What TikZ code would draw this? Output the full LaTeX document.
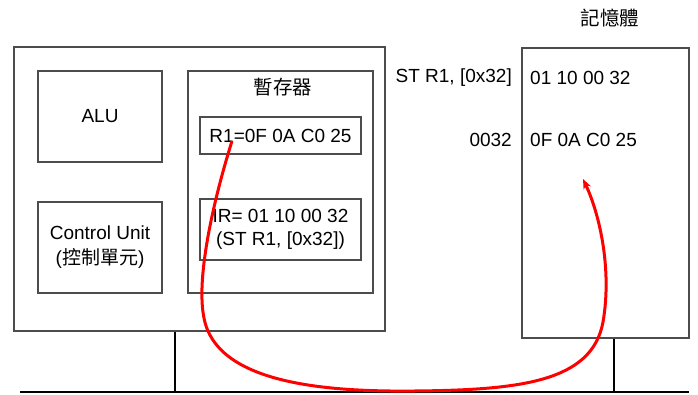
\documentclass[tikz,border=0pt]{standalone}
\usepackage{fontspec}
\setmainfont{Liberation Sans}
\newfontfamily\cjk{Noto Sans CJK TC}
\usetikzlibrary{arrows.meta}
\begin{document}
\begin{tikzpicture}[x=1pt,y=-1pt,
  box/.style={draw=black!70, line width=1.3pt, inner sep=0pt, align=center, font=\fontsize{19}{23}\selectfont},
  txt/.style={inner sep=0pt, align=center, font=\fontsize{19}{23}\selectfont},
  cjktxt/.style={inner sep=0pt, font=\fontsize{19.5}{23}\selectfont\cjk},
  busline/.style={draw=black, line width=1.1pt},
  flow/.style={draw=red, line width=3pt, -{Stealth[length=10pt,width=8pt]}}]
\useasboundingbox (0,0) rectangle (698,394);
\fill[white] (0,0) rectangle (698,394);
% CPU
\node[box, minimum width=371pt, minimum height=284pt] (cpu) at (199.5,189) {};
\node[box, minimum width=124pt, minimum height=91pt] (alu) at (100,116.5) {ALU};
\node[box, minimum width=124pt, minimum height=91pt] (cu) at (100,247.5) {Control Unit\\[2pt]({\cjk 控制單元})};
\node[box, minimum width=185pt, minimum height=222pt] (reg) at (280.5,182) {};
\node[cjktxt] (reglabel) at (283,87) {暫存器};
\node[box, minimum width=161pt, minimum height=37pt] (r1) at (280.5,135.5) {R1=0F 0A C0 25};
\node[box, minimum width=161pt, minimum height=61pt] (ir) at (280.5,229.5) {IR= 01 10 00 32\\(ST R1, [0x32])};
% Memory
\node[box, minimum width=167pt, minimum height=290pt] (mem) at (605.5,193) {};
\node[cjktxt] (memlabel) at (610,18) {記憶體};
\node[txt, anchor=east] (instr) at (512,78) {ST R1, [0x32]};
\node[txt, anchor=east] (addr) at (512,140) {0032};
\node[txt, anchor=west] (word1) at (530,78) {01 10 00 32};
\node[txt, anchor=west] (word2) at (530,140) {0F 0A C0 25};
% Bus
\coordinate (busL) at (20,392);
\coordinate (busR) at (689,392);
\coordinate (tapL) at (175,392);
\coordinate (tapR) at (614,392);
\draw[busline] (busL) -- (busR);
\draw[busline] (cpu.south -| tapL) -- (tapL);
\draw[busline] (mem.south -| tapR) -- (tapR);
% Red transfer arrow
\coordinate (s) at (232,141);
\coordinate (e) at (583,179);
\draw[flow] (s) .. controls (212,205) and (196,280) .. (204,318)
  .. controls (216,382) and (320,392) .. (414,391)
  .. controls (520,390) and (592,382) .. (603,322)
  .. controls (612,270) and (600,215) .. (e);
\end{tikzpicture}
\end{document}
